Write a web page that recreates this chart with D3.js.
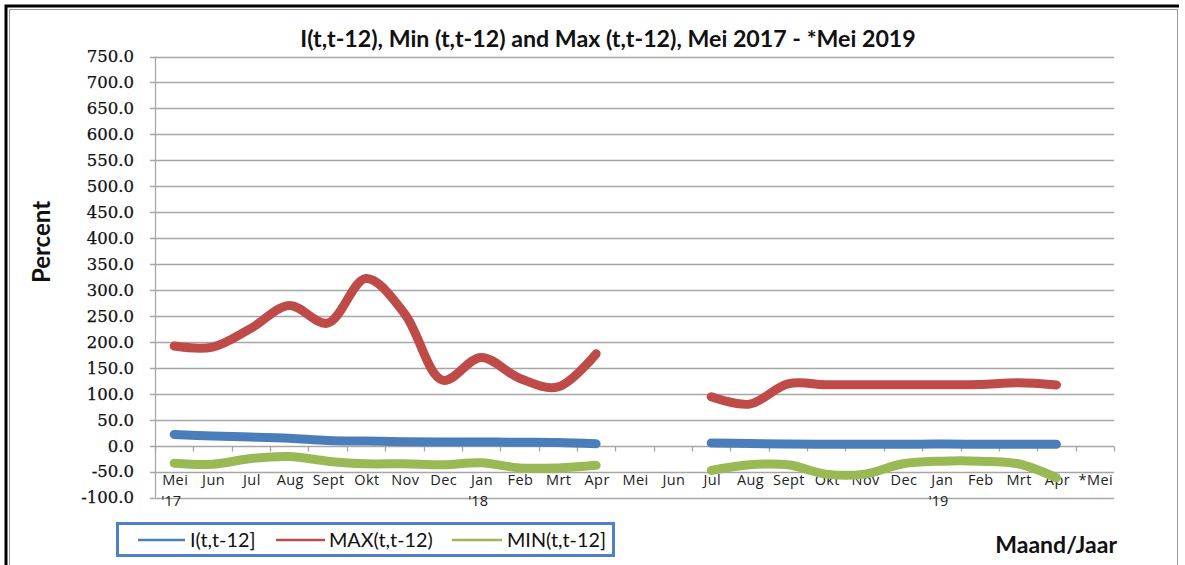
<!DOCTYPE html>
<html><head><meta charset="utf-8">
<script src="https://cdn.jsdelivr.net/npm/d3@7"></script>
<style>body{margin:0;background:#fff}svg{display:block}</style>
</head><body>
<svg id="c" width="1185" height="565"></svg>
<script>
const categories = ["Mei","Jun","Jul","Aug","Sept","Okt","Nov","Dec","Jan","Feb","Mrt","Apr",
                    "Mei","Jun","Jul","Aug","Sept","Okt","Nov","Dec","Jan","Feb","Mrt","Apr","*Mei"];
const yearLabels = [{i:0,t:"'17"},{i:8,t:"'18"},{i:20,t:"'19"}];
const iSeries   = [21.5,18.5,16.5,14,10,8.7,7.5,7,7,6.5,6,3.7, null,null, 5,4,3,2.5,2.5,2.5,3,2.5,2.5,2.5, null];
const maxSeries = [192,190,226,270,236,322,255,126,170,130,113,177, null,null, 94,80,119,117.5,117.5,117.5,117.5,118,121,117, null];
const minSeries = [-34,-36,-25,-21,-30,-35,-35,-37,-33,-43,-43,-38, null,null, -48,-37,-37,-55,-55,-35,-30,-30,-35,-62, null];
const yTicks = d3.range(-100, 751, 50);
const seriesNames = ["I(t,t-12]","MAX(t,t-12)","MIN(t,t-12]"];
const seriesColors = ["#4a7ebb","#be4b48","#98b954"];

const svg = d3.select("#c");
const x = d3.scaleBand().domain(d3.range(categories.length)).range([155,1114]).padding(0);
const y = d3.scaleLinear().domain([-100,750]).range([497.5,56.5]);

// frame
svg.append("rect").attr("x",9.5).attr("y",9.5).attr("width",1168).attr("height",570)
  .attr("fill","none").attr("stroke","#999").attr("stroke-width",1);
svg.append("path").attr("d","M6,580 V6 H1179").attr("fill","none").attr("stroke","#000").attr("stroke-width",3);

// gridlines
svg.append("g").selectAll("line").data(yTicks).join("line")
  .attr("x1",150).attr("x2",1114).attr("y1",d=>Math.round(y(d))+0.5).attr("y2",d=>Math.round(y(d))+0.5)
  .attr("stroke","#a6a6a6").attr("stroke-width",1.3);
// y axis line
svg.append("line").attr("x1",155.5).attr("x2",155.5).attr("y1",y(750)).attr("y2",y(-100))
  .attr("stroke","#a6a6a6").attr("stroke-width",1.3);
// y tick labels
svg.append("g").selectAll("text").data(yTicks).join("text")
  .attr("x",134).attr("y",d=>y(d)).attr("dy","0.36em").attr("text-anchor","end")
  .attr("font-family","DejaVu Serif").attr("font-size",16.5).attr("fill","#111")
  .attr("stroke","#111").attr("stroke-width",0.25)
  .text(d=>d.toFixed(1));

// x axis at 0 with ticks
const y0 = Math.round(y(0))+0.5;
svg.append("g").selectAll("line").data(d3.range(categories.length+1)).join("line")
  .attr("x1",i=>Math.round(155+i*x.bandwidth())+0.5).attr("x2",i=>Math.round(155+i*x.bandwidth())+0.5)
  .attr("y1",y0).attr("y2",y0+5).attr("stroke","#a6a6a6").attr("stroke-width",1.3);

// category labels
svg.append("g").selectAll("text").data(categories).join("text")
  .attr("x",(d,i)=>x(i)+x.bandwidth()/2+1).attr("y",485).attr("text-anchor","middle")
  .attr("font-family","Open Sans").attr("font-size",14.5).attr("letter-spacing",0.4).attr("fill","#222").text(d=>d);
svg.append("g").selectAll("text").data(yearLabels).join("text")
  .attr("x",d=>x(d.i)+x.bandwidth()/2-3).attr("y",506).attr("text-anchor","middle")
  .attr("font-family","Open Sans").attr("font-size",14.5).attr("fill","#222").text(d=>d.t);

// lines
const line = d3.line().defined(d=>d!=null).x((d,i)=>x(i)+x.bandwidth()/2).y(d=>y(d))
  .curve(d3.curveCatmullRom.alpha(0.5));
const all = [iSeries, maxSeries, minSeries];
const order = [2,0,1];
order.forEach(k=>{
  svg.append("path").attr("d",line(all[k])).attr("fill","none")
    .attr("stroke",seriesColors[k]).attr("stroke-width",9).attr("stroke-linecap","round").attr("stroke-linejoin","round");
});

// title
svg.append("text").attr("x",608).attr("y",47).attr("text-anchor","middle")
  .attr("font-family","Lato").attr("font-weight","bold").attr("font-size",23.2).attr("fill","#111")
  .text("I(t,t-12), Min (t,t-12) and Max (t,t-12), Mei 2017 - *Mei 2019");
// y axis title
svg.append("text").attr("transform","translate(50,242) rotate(-90)").attr("text-anchor","middle")
  .attr("font-family","Lato").attr("font-weight","bold").attr("font-size",24).attr("fill","#111").text("Percent");
// x axis title
svg.append("text").attr("x",1117).attr("y",553).attr("text-anchor","end")
  .attr("font-family","Lato").attr("font-weight","bold").attr("font-size",23).attr("fill","#111").text("Maand/Jaar");

// legend
const lg = svg.append("g");
lg.append("rect").attr("x",117.5).attr("y",523.5).attr("width",496).attr("height",32)
  .attr("fill","#fff").attr("stroke","#4f81c8").attr("stroke-width",3);
const legX = [[138,185,190],[276,325,329],[452,502,507]];
seriesNames.forEach((n,k)=>{
  lg.append("line").attr("x1",legX[k][0]).attr("x2",legX[k][1]).attr("y1",540).attr("y2",540)
    .attr("stroke",seriesColors[k]).attr("stroke-width",2.5);
  lg.append("text").attr("x",legX[k][2]).attr("y",547).attr("font-family","Lato").attr("font-size",19.8)
    .attr("fill","#111").text(n);
});
</script>
</body></html>
